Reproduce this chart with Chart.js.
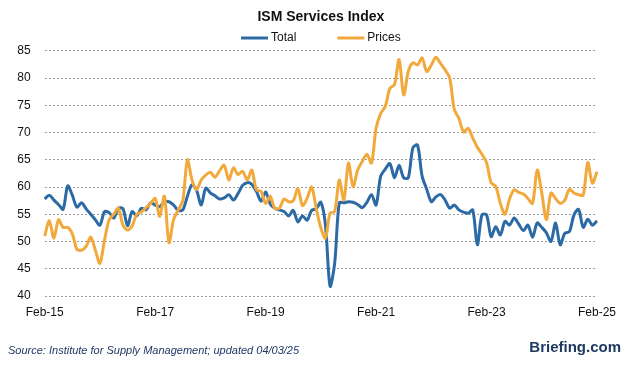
<!DOCTYPE html>
<html>
<head>
<meta charset="utf-8">
<script src="https://cdn.jsdelivr.net/npm/chart.js@4.4.1/dist/chart.umd.min.js"></script>
<style>
  html, body { margin: 0; padding: 0; background: #fff; }
</style>
</head>
<body>
<canvas id="ismChart" width="626" height="367"></canvas>
<script>
// monthly, Feb-15 .. Feb-25
const firstMonth = { year: 2015, month: 1 }; // 0 = Jan
const tickLabels = ['Feb-15', 'Feb-17', 'Feb-19', 'Feb-21', 'Feb-23', 'Feb-25'];
const seriesNames = ['Total', 'Prices'];

const totalData = [
  57.8, 58.5, 57.6, 56.8, 55.9, 60.2, 58.5, 56.3, 57.1, 56.0, 55.0,
  54.0, 53.0, 55.5, 55.3, 54.3, 56.1, 56.0, 52.9, 55.5, 54.7, 56.1, 55.8,
  57.1, 56.7, 56.4, 57.3, 57.3, 56.7, 55.7, 55.8, 58.3, 60.4, 59.4, 56.7,
  59.8, 58.9, 58.4, 57.8, 58.0, 58.6, 57.6, 58.8, 60.3, 60.8, 60.5, 59.2,
  57.4, 59.1, 56.9, 56.1, 55.8, 55.5, 54.7, 55.7, 53.6, 54.7, 53.9, 55.7,
  56.0, 57.2, 53.0, 41.8, 46.0, 57.1, 57.1, 57.3, 57.2, 56.8, 56.2, 57.2,
  58.6, 56.7, 62.0, 63.3, 64.3, 61.7, 64.0, 61.7, 61.7, 67.2, 67.7, 62.0,
  59.6, 57.3, 58.2, 58.6, 57.6, 56.1, 56.7, 55.8, 55.4, 55.2, 55.8, 49.4,
  54.9, 54.9, 50.9, 52.7, 51.2, 53.7, 53.0, 54.3, 53.2, 52.0, 53.0, 50.8,
  53.4, 52.6, 51.6, 50.0, 53.4, 49.4, 51.5, 51.8, 54.9, 55.9, 52.6, 54.1,
  53.0, 53.8
];

const pricesData = [
  51.0, 53.8, 50.6, 54.0, 52.6, 52.6, 51.4, 48.6, 48.4, 49.1, 50.8,
  48.4, 46.0, 50.3, 54.0, 55.0, 56.1, 53.0, 52.1, 52.9, 55.0, 55.4, 56.2,
  57.0, 57.9, 54.6, 58.3, 49.8, 54.0, 55.8, 57.5, 65.0, 61.3, 59.5, 61.3,
  62.2, 62.7, 61.8, 63.0, 64.0, 61.3, 63.5, 62.3, 62.9, 61.3, 63.1, 59.5,
  59.2, 57.0, 58.3, 56.1, 56.1, 57.8, 57.3, 57.5, 59.7, 56.6, 57.9, 60.0,
  56.0, 52.5, 50.6, 55.2, 55.5, 61.3, 57.6, 64.4, 60.1, 63.1, 64.7, 66.0,
  64.4, 70.8, 73.5, 74.8, 78.1, 78.8, 83.4, 76.9, 81.2, 82.8, 82.4, 83.7,
  81.2, 82.4, 83.8, 82.7, 81.5, 80.0, 74.2, 72.6, 70.1, 70.8, 69.0, 67.3,
  66.0, 64.5, 60.8, 60.1, 57.0, 55.0, 57.8, 59.5, 59.0, 58.7, 57.9, 57.0,
  63.1, 58.9, 54.0, 58.9, 57.9, 57.0, 57.6, 59.6, 58.9, 58.6, 58.5, 64.5,
  60.7, 62.8
];

const MONTHS = ['Jan', 'Feb', 'Mar', 'Apr', 'May', 'Jun', 'Jul', 'Aug', 'Sep', 'Oct', 'Nov', 'Dec'];
const labels = totalData.map((_, i) => {
  const m = firstMonth.month + i;
  const yr = firstMonth.year + Math.floor(m / 12);
  return MONTHS[m % 12] + '-' + String(yr).slice(2);
});

const BLUE = '#2c6aa6';
const ORANGE = '#f2a93b';
const FONT = "'Liberation Sans', Arial, sans-serif";

// legend row + footer texts
const extras = {
  id: 'extras',
  afterDraw(chart) {
    const c = chart.ctx;
    const area = chart.chartArea;
    c.save();
    c.font = '12px ' + FONT;
    c.textBaseline = 'middle';
    const lineW = 27, gap = 3, between = 41;
    const widths = seriesNames.map(n => c.measureText(n).width);
    const full = widths.reduce((s, w) => s + lineW + gap + w, 0) + between;
    let x = (area.left + area.right) / 2 - full / 2;
    const y = 38;
    [BLUE, ORANGE].forEach((col, i) => {
      c.strokeStyle = col;
      c.lineWidth = 3;
      c.beginPath();
      c.moveTo(x, y);
      c.lineTo(x + lineW, y);
      c.stroke();
      c.fillStyle = '#111';
      c.fillText(seriesNames[i], x + lineW + gap, y);
      x += lineW + gap + widths[i] + between;
    });

    c.font = 'italic 11px ' + FONT;
    c.fillStyle = '#1f3864';
    c.textAlign = 'left';
    c.fillText('Source: Institute for Supply Management; updated 04/03/25', 8, 351);

    c.font = 'bold 15px ' + FONT;
    c.fillStyle = '#1e3a60';
    c.textAlign = 'right';
    c.fillText('Briefing.com', 621, 348);
    c.restore();
  }
};

const ctx = document.getElementById('ismChart').getContext('2d');

const ismChart = new Chart(ctx, {
  type: 'line',
  data: {
    labels,
    datasets: [
      {
        label: seriesNames[0],
        data: totalData,
        borderColor: BLUE,
        backgroundColor: BLUE,
        borderWidth: 3,
        pointRadius: 0,
        tension: 0.3,
        order: 2
      },
      {
        label: seriesNames[1],
        data: pricesData,
        borderColor: ORANGE,
        backgroundColor: ORANGE,
        borderWidth: 3,
        pointRadius: 0,
        tension: 0.3,
        order: 1
      }
    ]
  },
  options: {
    responsive: false,
    animation: false,
    devicePixelRatio: 1,
    layout: {
      padding: { left: 0, right: 29, top: 0, bottom: 40 }
    },
    scales: {
      x: {
        type: 'category',
        offset: false,
        grid: { display: false },
        border: { display: false },
        ticks: {
          autoSkip: false,
          maxRotation: 0,
          padding: 1,
          color: '#111',
          font: { family: FONT, size: 12 },
          callback: (val, idx) => tickLabels.includes(labels[idx]) ? labels[idx] : null
        },
        afterFit: (scale) => { scale.height = 31; }
      },
      y: {
        min: 40,
        max: 85,
        grid: { color: '#9b9b9b', lineWidth: 1, drawTicks: false },
        border: { display: false, dash: [2, 2] },
        ticks: {
          stepSize: 5,
          padding: 14,
          color: '#111',
          font: { family: FONT, size: 12 }
        },
        afterFit: (scale) => { scale.width = 44.7; }
      }
    },
    plugins: {
      legend: { display: false },
      tooltip: { enabled: false },
      title: {
        display: true,
        fullSize: false,
        text: 'ISM Services Index',
        color: '#111',
        font: { family: FONT, size: 14, weight: 'bold' },
        padding: { top: 9, bottom: 25 }
      }
    }
  },
  plugins: [extras]
});
</script>
</body>
</html>
